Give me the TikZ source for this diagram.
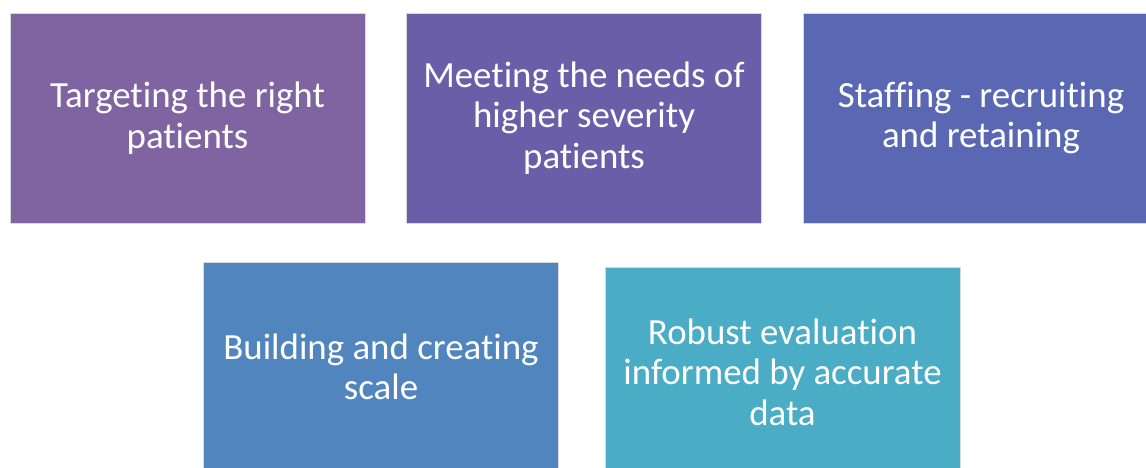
\documentclass[tikz,border=0pt]{standalone}
\usepackage{fontspec}
\setmainfont{Carlito}[Ligatures=NoCommon]
\usepackage{xcolor}
\definecolor{boxA}{HTML}{8064A2}
\definecolor{boxB}{HTML}{6A5EA9}
\definecolor{boxC}{HTML}{5A68B3}
\definecolor{boxD}{HTML}{5085BE}
\definecolor{boxE}{HTML}{4BACC6}
\tikzset{
    issue/.style={draw=white!85!black, line width=0.4pt, text=white,
                  minimum width=7.1cm, minimum height=4.2cm,
                  align=center, font=\fontsize{21}{23}\selectfont}
}

\begin{document}
\begin{tikzpicture}[x=0.02cm, y=-0.02cm]
    % Page frame
    \useasboundingbox (0,0) rectangle (1146,467);
    \clip (0,0) rectangle (1146,467);

    % Top row
    \node[issue, fill=boxA] (target) at (187.5,118) {Targeting the right\\patients};
    \node[issue, fill=boxB] (severity) at (584,118) {Meeting the needs of\\higher severity\\patients};
    \node[issue, fill=boxC] (staffing) at (981,118) {Staffing - recruiting\\and retaining};

    % Bottom row
    \node[issue, fill=boxD] (scale) at (381,367) {Building and creating\\scale};
    \node[issue, fill=boxE] (evaluation) at (782.5,372) {Robust evaluation\\informed by accurate\\data};

\end{tikzpicture}
\end{document}
